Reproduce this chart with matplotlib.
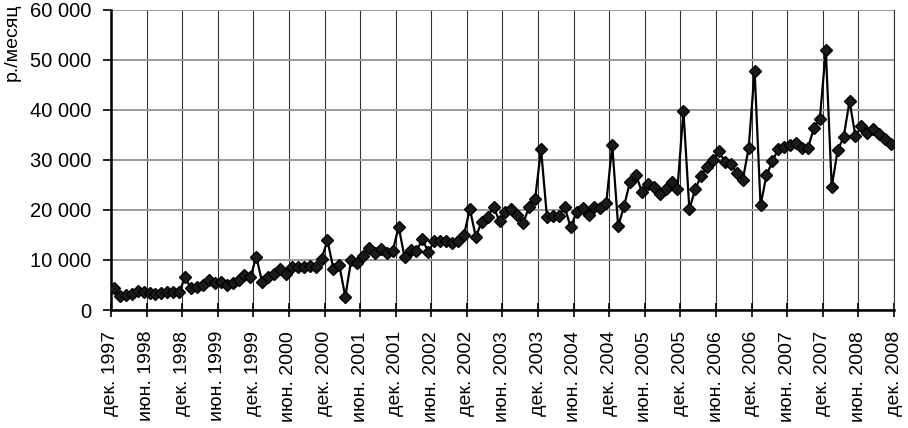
import matplotlib
matplotlib.use("Agg")
import matplotlib.pyplot as plt
from matplotlib.ticker import FuncFormatter

plt.rcParams['font.family'] = ['Liberation Sans', 'DejaVu Sans']

# monthly values, Dec 1997 .. Nov 2008 (р./месяц)
values = [
    4300, 2700, 3000, 3100, 3800, 3500, 3450, 3200, 3300, 3500, 3500, 3600,
    6500, 4300, 4650, 4900, 6000, 5400, 5500, 5000, 5300, 6000, 7000, 6600,
    10600, 5500, 6600, 7100, 8100, 7200, 8600, 8600, 8500, 8800, 8600, 10200,
    13900, 8200, 8900, 2650, 10000, 9300, 10800, 12300, 11300, 12200, 11300, 11800,
    16600, 10500, 12000, 11800, 14100, 11600, 13800, 13800, 13700, 13400, 13800, 14900,
    20200, 14600, 17600, 18600, 20600, 17700, 19600, 20100, 18900, 17400, 20600, 22200,
    32100, 18500, 18800, 18800, 20500, 16500, 19600, 20300, 19000, 20500, 20300, 21400,
    32900, 16700, 20800, 25600, 27000, 23600, 25200, 24600, 23200, 24200, 25600, 24200,
    39800, 20100, 24200, 26800, 28600, 29900, 31700, 29500, 29200, 27400, 25900, 32400,
    47800, 20900, 26900, 29700, 32200, 32500, 32900, 33300, 32400, 32400, 36300, 38200,
    51900, 24600, 31900, 34500, 41700, 34700, 36700, 35300, 36200, 35200, 34200, 33100,
]

tick_labels = [
    "дек. 1997", "июн. 1998", "дек. 1998", "июн. 1999", "дек. 1999", "июн. 2000",
    "дек. 2000", "июн. 2001", "дек. 2001", "июн. 2002", "дек. 2002", "июн. 2003",
    "дек. 2003", "июн. 2004", "дек. 2004", "июн. 2005", "дек. 2005", "июн. 2006",
    "дек. 2006", "июн. 2007", "дек. 2007", "июн. 2008", "дек. 2008",
]

x = [i + 0.5 for i in range(len(values))]
ticks = [6 * i for i in range(len(tick_labels))]

fig = plt.figure(figsize=(9.08, 4.28), dpi=100)
ax = fig.add_axes([0.1222, 0.2757, 0.8624, 0.7021])

ax.plot(x, values, color="black", lw=1.6, marker="D", ms=6.5,
        markerfacecolor="#1a1a1a", markeredgecolor="black", zorder=3)

ax.set_xlim(0, 132)
ax.set_ylim(0, 60000)
ax.set_yticks(range(0, 60001, 10000))
ax.yaxis.set_major_formatter(FuncFormatter(lambda v, p: f"{int(v):,}".replace(",", " ")))
ax.set_xticks(ticks)
ax.set_xticklabels(tick_labels, rotation=90, fontsize=14)
ax.tick_params(axis="y", labelsize=14.5, direction="out", length=6, width=1.2, pad=8)
ax.tick_params(axis="x", direction="inout", length=10, width=1.2, pad=10)

ax.grid(axis="y", color="#9a9a9a", lw=1.4)
ax.grid(axis="x", color="#333333", lw=0.8)
ax.set_axisbelow(True)

ax.spines["top"].set_visible(False)
ax.spines["right"].set_color("#333333")
ax.spines["right"].set_linewidth(0.8)
ax.spines["left"].set_linewidth(1.8)
ax.spines["bottom"].set_linewidth(1.8)

# y-axis title sits at the top-left corner of the figure
fig.text(0.013, 0.993, "р./месяц", fontsize=14, rotation=90, ha="center", va="top")

fig.savefig("out.png", dpi=100)
